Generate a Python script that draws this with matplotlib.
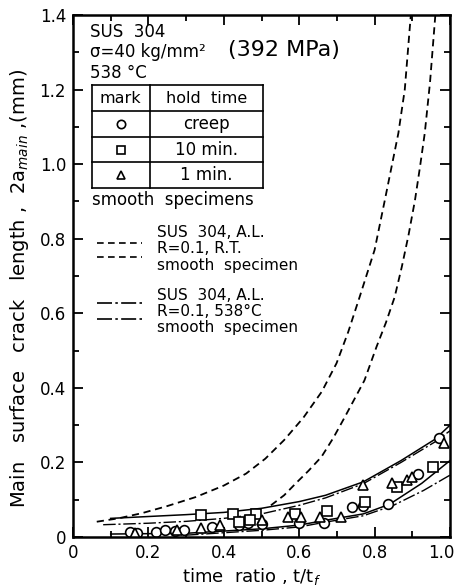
import matplotlib
matplotlib.use('Agg')
import matplotlib.pyplot as plt
import matplotlib.transforms as mtransforms
import numpy as np

# data
# experimental points, SUS 304, 538 C, 40 kg/mm2
circleX = [0.15, 0.17, 0.22, 0.245, 0.27, 0.295, 0.37, 0.44, 0.465, 0.5, 0.6, 0.665, 0.74, 0.77, 0.835, 0.915, 0.97]
circleY = [0.014, 0.012, 0.014, 0.019, 0.016, 0.019, 0.028, 0.032, 0.037, 0.035, 0.037, 0.037, 0.081, 0.083, 0.089, 0.17, 0.265]

squareX = [0.34, 0.425, 0.485, 0.59, 0.675, 0.775, 0.86, 0.955, 0.44, 0.47]
squareY = [0.06, 0.062, 0.062, 0.062, 0.07, 0.095, 0.135, 0.188, 0.04, 0.045]

triX = [0.165, 0.275, 0.34, 0.39, 0.5, 0.57, 0.605, 0.655, 0.71, 0.77, 0.845, 0.885, 0.9, 0.985]
triY = [0.012, 0.019, 0.023, 0.032, 0.046, 0.054, 0.054, 0.054, 0.054, 0.139, 0.144, 0.153, 0.16, 0.253]

# R.T. scatter band (dashed)
rtUpX = [0.063, 0.12, 0.183, 0.25, 0.325, 0.4, 0.459, 0.51, 0.56, 0.611, 0.66, 0.699, 0.73, 0.76, 0.8, 0.827, 0.863, 0.88, 0.9]
rtUpY = [0.041, 0.05, 0.064, 0.083, 0.107, 0.138, 0.17, 0.21, 0.26, 0.32, 0.39, 0.466, 0.55, 0.643, 0.77, 0.903, 1.083, 1.2, 1.45]
rtLoX = [0.525, 0.56, 0.592, 0.625, 0.659, 0.69, 0.72, 0.773, 0.805, 0.83, 0.853, 0.872, 0.89, 0.907, 0.92, 0.933, 0.947, 0.965]
rtLoY = [0.085, 0.112, 0.145, 0.178, 0.215, 0.265, 0.32, 0.42, 0.51, 0.575, 0.643, 0.724, 0.81, 0.903, 0.99, 1.083, 1.22, 1.45]

# 538 C scatter band
hotUpAX = [0.1, 0.2, 0.3, 0.4, 0.5, 0.6, 0.67, 0.77, 0.87, 0.96, 1.0]
hotUpAY = [0.05, 0.055, 0.06, 0.066, 0.077, 0.095, 0.112, 0.148, 0.205, 0.262, 0.3]
hotUpBX = [0.08, 0.2, 0.3, 0.4, 0.5, 0.6, 0.67, 0.77, 0.87, 0.96, 1.0]
hotUpBY = [0.033, 0.037, 0.042, 0.05, 0.062, 0.085, 0.105, 0.143, 0.2, 0.255, 0.285]
hotLoAX = [0.1, 0.3, 0.5, 0.6, 0.67, 0.77, 0.84, 0.925, 1.0]
hotLoAY = [0.008, 0.01, 0.022, 0.032, 0.045, 0.062, 0.088, 0.144, 0.205]
hotLoBX = [0.3, 0.5, 0.6, 0.67, 0.77, 0.85, 0.93, 1.0]
hotLoBY = [0.005, 0.018, 0.027, 0.04, 0.057, 0.085, 0.125, 0.166]

holdMarks = ['o', 's', '^']
holdTimes = ['creep', '10 min.', '1 min.']

dashStyle = (0, (4, 2.6))
dashDot = (0, (9, 2, 1.5, 2))

fig = plt.figure(figsize=(4.6, 5.88), dpi=100)
ax = fig.add_axes([0.1587, 0.0867, 0.8196, 0.8878])

ax.plot(rtUpX, rtUpY, color='black', lw=1.3, linestyle=dashStyle)
ax.plot(rtLoX, rtLoY, color='black', lw=1.3, linestyle=dashStyle)
ax.plot(hotUpAX, hotUpAY, color='black', lw=1.1)
ax.plot(hotUpBX, hotUpBY, color='black', lw=1.0, linestyle=dashDot)
ax.plot(hotLoAX, hotLoAY, color='black', lw=1.1)
ax.plot(hotLoBX, hotLoBY, color='black', lw=1.0, linestyle=dashDot)

mk = dict(linestyle='none', markerfacecolor='white', markeredgecolor='black', markeredgewidth=1.2, markersize=7)
ax.plot(circleX, circleY, marker='o', **mk)
ax.plot(squareX, squareY, marker='s', **mk)
ax.plot(triX, triY, marker='^', **mk)

ax.set_xlim(0, 1.0)
ax.set_ylim(0, 1.4)
ax.set_xticks([0, 0.2, 0.4, 0.6, 0.8, 1.0])
ax.set_xticklabels(['0', '0.2', '0.4', '0.6', '0.8', '1.0'])
ax.set_yticks([0, 0.2, 0.4, 0.6, 0.8, 1.0, 1.2, 1.4])
ax.set_yticklabels(['0', '0.2', '0.4', '0.6', '0.8', '1.0', '1.2', '1.4'])
ax.set_xticks(np.arange(0.1, 1.0, 0.2), minor=True)
ax.set_yticks(np.arange(0.1, 1.4, 0.2), minor=True)
ax.tick_params(which='both', direction='in', top=True, right=True, labelsize=12, width=1.3)
ax.tick_params(which='major', length=7, pad=5)
ax.tick_params(which='minor', length=4)
for s in ax.spines.values():
    s.set_linewidth(1.8)

# last x label sits against the figure edge, pull it in a bit
lastLab = ax.get_xticklabels()[-1]
lastLab.set_ha('right')
lastLab.set_transform(lastLab.get_transform() + mtransforms.ScaledTranslation(4/100., 0, fig.dpi_scale_trans))

# header text
tx = 0.045
ax.text(tx, 1.354, 'SUS  304', fontsize=12, va='center')
ax.text(tx, 1.30, 'σ=40 kg/mm²', fontsize=12, va='center')
ax.text(0.41, 1.305, '(392 MPa)', fontsize=16, va='center')
ax.text(tx, 1.244, '538 °C', fontsize=12, va='center')

# little table of marks
tabX = [0.05, 0.203, 0.504]
tabY = [1.212, 1.142, 1.072, 1.005, 0.936]
for yy in tabY:
    ax.plot([tabX[0], tabX[2]], [yy, yy], color='black', lw=1.2)
for xx in tabX:
    ax.plot([xx, xx], [tabY[0], tabY[-1]], color='black', lw=1.2)
c1 = (tabX[0] + tabX[1]) / 2
c2 = (tabX[1] + tabX[2]) / 2
ax.text(c1, (tabY[0] + tabY[1]) / 2, 'mark', fontsize=11.5, ha='center', va='center')
ax.text(c2, (tabY[0] + tabY[1]) / 2, 'hold  time', fontsize=11.5, ha='center', va='center')
for i in range(3):
    yc = (tabY[i + 1] + tabY[i + 2]) / 2
    ax.plot([c1], [yc], marker=holdMarks[i], linestyle='none', markerfacecolor='white',
            markeredgecolor='black', markeredgewidth=1.2, markersize=6)
    ax.text(c2, yc, holdTimes[i], fontsize=12, ha='center', va='center')
ax.text(0.05, 0.903, 'smooth  specimens', fontsize=12, va='center')

# line legend
legFs = 11
ax.plot([0.064, 0.184], [0.788, 0.788], color='black', lw=1.2, linestyle=dashStyle)
ax.plot([0.064, 0.184], [0.751, 0.751], color='black', lw=1.2, linestyle=dashStyle)
ax.text(0.224, 0.818, 'SUS  304, A.L.', fontsize=legFs, va='center')
ax.text(0.224, 0.773, 'R=0.1, R.T.', fontsize=legFs, va='center')
ax.text(0.224, 0.728, 'smooth  specimen', fontsize=legFs, va='center')

ax.plot([0.064, 0.184], [0.627, 0.627], color='black', lw=1.2, linestyle=dashDot)
ax.plot([0.064, 0.184], [0.584, 0.584], color='black', lw=1.2, linestyle=dashDot)
ax.text(0.224, 0.648, 'SUS  304, A.L.', fontsize=legFs, va='center')
ax.text(0.224, 0.605, 'R=0.1, 538°C', fontsize=legFs, va='center')
ax.text(0.224, 0.562, 'smooth  specimen', fontsize=legFs, va='center')

# y label is spread out in the original
ylab = 'Main   surface   crack   length ,  2a$_{main}$ ,(mm)'
fig.text(0.043, 0.51, ylab, fontsize=14, rotation=90, ha='center', va='center')
fig.text(0.548, 0.019, 'time  ratio , t/t$_f$', fontsize=13, ha='center', va='center')

plt.savefig('out.png', dpi=100)
